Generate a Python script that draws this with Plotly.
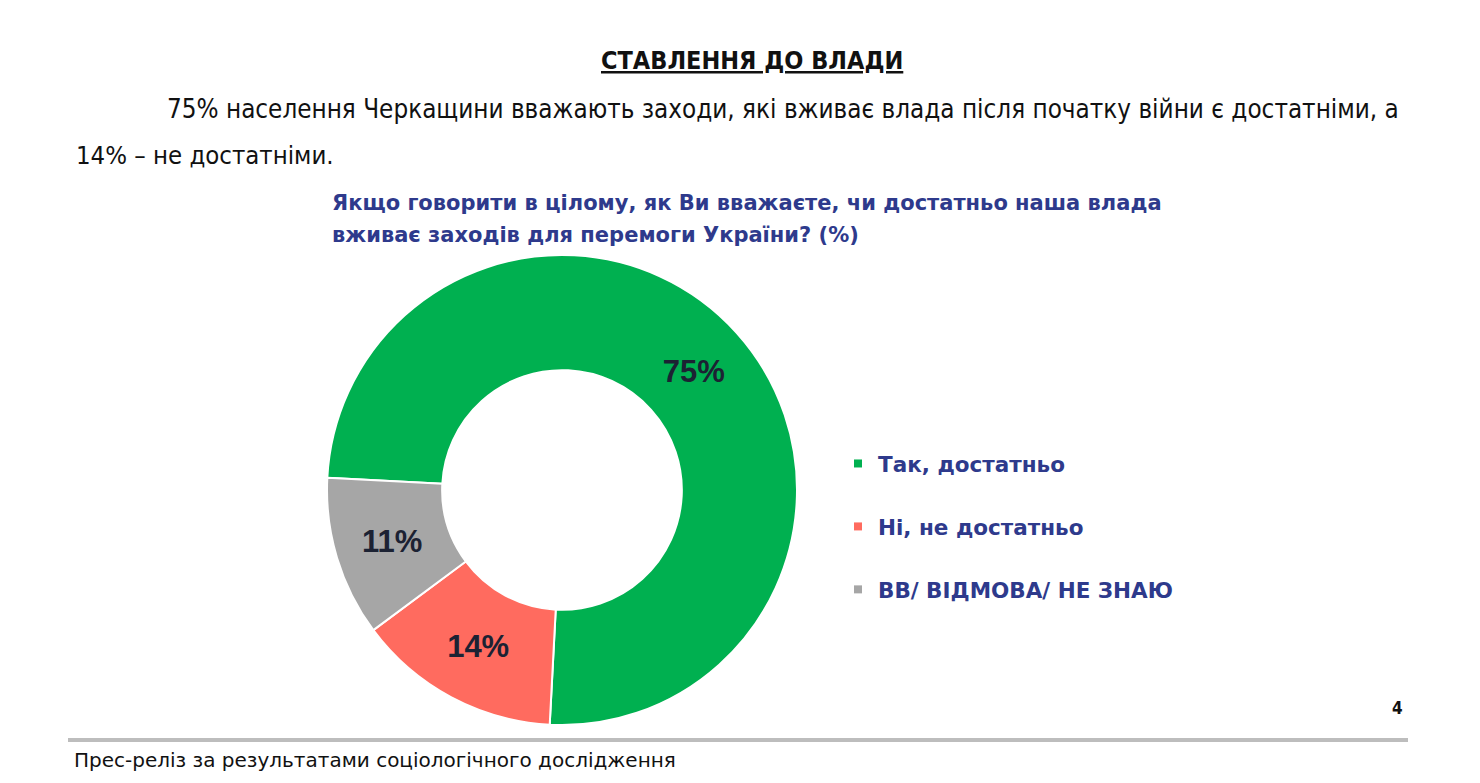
import plotly.graph_objects as go

# дані діаграми
kategorii = ['Так, достатньо', 'Ні, не достатньо', 'ВВ/ ВІДМОВА/ НЕ ЗНАЮ']
vidsotky = [75, 14, 11]
kolory = ['#00B050', '#FF6B5F', '#A6A6A6']

zagolovok = 'СТАВЛЕННЯ ДО ВЛАДИ'
abzac_1 = ('75% населення Черкащини вважають заходи, які вживає влада після початку війни '
           'є достатніми, а')
abzac_2 = '14% – не достатніми.'
pytannia_1 = 'Якщо говорити в цілому, як Ви вважаєте, чи достатньо наша влада'
pytannia_2 = 'вживає заходів для перемоги України? (%)'
stopka = 'Прес-реліз за результатами соціологічного дослідження'
nomer_storinky = '4'

W, H = 1480, 783
OFF = 8  # відступ body на сторінці
SYNII = '#2E3A8C'


def px(x):
    return (x - OFF) / W


def py(y):
    return 1 - (y - OFF) / H


fig = go.Figure()

# кільцева діаграма
cx, cy, r = 562, 490, 235
fig.add_trace(go.Pie(
    labels=kategorii,
    values=vidsotky,
    marker=dict(colors=kolory, line=dict(color='white', width=2)),
    hole=0.51,
    sort=False,
    direction='clockwise',
    rotation=-87,
    texttemplate='%{value}%',
    textposition='inside',
    insidetextorientation='horizontal',
    textfont=dict(family='Arial, Liberation Sans', size=31, color='#1C2233', weight='bold'),
    showlegend=False,
    hoverinfo='label+percent',
    domain=dict(x=[px(cx - r), px(cx + r)], y=[py(cy + r), py(cy - r)]),
))

# легенда окремими елементами, щоб задати відступи між рядками
for i, (nazva, kolir) in enumerate(zip(kategorii, kolory)):
    fig.add_trace(go.Scatter(
        x=[None], y=[None], mode='markers', name=nazva,
        marker=dict(symbol='square', size=8, color=kolir),
        legendgroup=str(i), showlegend=True,
    ))

fig.update_layout(
    width=W, height=H,
    margin=dict(l=0, r=0, t=0, b=0),
    paper_bgcolor='white', plot_bgcolor='white',
    xaxis=dict(visible=False), yaxis=dict(visible=False),
    legend=dict(
        x=px(838), y=py(443), xanchor='left', yanchor='top',
        font=dict(family='DejaVu Sans', size=21.5, color=SYNII, weight='bold'),
        tracegroupgap=32, itemwidth=30, bgcolor='rgba(0,0,0,0)',
    ),
)

tekst_font = dict(family='Liberation Sans Narrow, DejaVu Sans Condensed, Arial', color='#111111')
pyt_font = dict(family='DejaVu Sans', size=21, color=SYNII, weight='bold')
annots = [
    dict(text=zagolovok, x=px(752), y=py(61),
         font=dict(tekst_font, size=25, weight='bold', lineposition='under'), xanchor='center'),
    dict(text=abzac_1, x=px(165), y=py(109), font=dict(tekst_font, size=25.8), xanchor='left'),
    dict(text=abzac_2, x=px(74), y=py(155), font=dict(tekst_font, size=25.5), xanchor='left'),
    dict(text=pytannia_1, x=px(330), y=py(203), font=pyt_font, xanchor='left'),
    dict(text=pytannia_2, x=px(330), y=py(235), font=pyt_font, xanchor='left'),
    dict(text=nomer_storinky, x=px(1405), y=py(708),
         font=dict(tekst_font, size=17, weight='bold'), xanchor='right'),
    dict(text=stopka, x=px(72), y=py(760),
         font=dict(family='DejaVu Sans', size=20, color='#111111'), xanchor='left'),
]
for a in annots:
    fig.add_annotation(xref='paper', yref='paper', showarrow=False, yanchor='middle', **a)

# лінія над нижнім колонтитулом
fig.add_shape(type='line', xref='paper', yref='paper',
              x0=px(68), x1=px(1408), y0=py(740), y1=py(740),
              line=dict(color='#BDBDBD', width=4))

fig.write_html('out.html')
